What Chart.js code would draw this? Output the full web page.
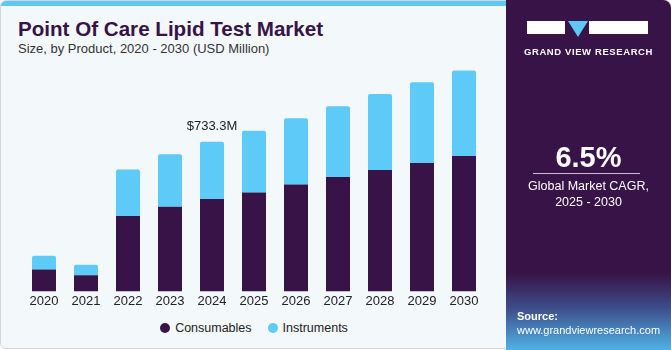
<!DOCTYPE html>
<html>
<head>
<meta charset="utf-8">
<script src="https://cdn.jsdelivr.net/npm/chart.js@4"></script>
<style>
  html, body { margin: 0; padding: 0; background: #ffffff; }
  body { width: 671px; height: 350px; overflow: hidden; font-family: "Liberation Sans", Arial, sans-serif; }
  .card {
    position: absolute; left: 0; top: 0; width: 669px; height: 347px;
    background: #f3f8fb; border: 1px solid #d4d7da; border-radius: 6px; overflow: hidden;
  }
  .strip { position: absolute; left: 0; top: 0; width: 506px; height: 5px; background: #5ec8f2; }
  .title { position: absolute; left: 17px; top: 16px; font-size: 20.6px; font-weight: bold; color: #371347; }
  .sub { position: absolute; left: 17px; top: 40px; font-size: 13px; color: #333; }
  .side {
    position: absolute; left: 506px; top: 0; width: 165px; height: 350px;
    background: linear-gradient(to bottom, #371347 0%, #371347 78%, #3d4d8a 88%, #4fb3e6 100%);
    border-top-right-radius: 8px; color: #fff; text-align: center;
  }
  .logo { position: absolute; left: 21px; top: 21px; width: 121px; height: 13px; }
  .logo .a { position: absolute; left: 0; top: 0; width: 38px; height: 13px; background: #fff; }
  .logo .b { position: absolute; left: 41px; top: 0; width: 0; height: 0;
    border-left: 10px solid transparent; border-right: 10px solid transparent; border-top: 16px solid #5ec8f2; }
  .logo .c { position: absolute; left: 62px; top: 0; width: 59px; height: 13px; background: #fff; }
  .brand { position: absolute; left: 0; width: 165px; top: 46px; font-size: 9.5px; font-weight: bold; letter-spacing: 0.6px; }
  .cagr { position: absolute; left: 0; width: 165px; top: 141px; font-size: 29px; font-weight: bold; }
  .rule { position: absolute; left: 27px; width: 107px; top: 173px; height: 1px; background: #c9bfd1; }
  .cagr-t { position: absolute; left: 0; width: 165px; top: 178px; font-size: 12.5px; line-height: 16px; }
  .src { position: absolute; left: 11px; top: 309px; font-size: 11px; text-align: left; line-height: 14px; }
  .chart-box { position: absolute; left: 0; top: 60px; width: 506px; height: 250px; }
  .legend { position: absolute; left: 0; width: 506px; top: 320px; text-align: center; font-size: 12.5px; color: #222; }
  .legend span { display: inline-block; margin: 0 8px; }
  .legend i { display: inline-block; width: 10px; height: 10px; border-radius: 50%; margin-right: 5px; vertical-align: -1px; }
</style>
</head>
<body>
<div class="card">
  <div class="strip"></div>
  <div class="title">Point Of Care Lipid Test Market</div>
  <div class="sub">Size, by Product, 2020 - 2030 (USD Million)</div>
  <div class="chart-box"><canvas id="chart"></canvas></div>
  <div class="legend" id="legend"></div>
</div>
<div class="side">
  <div class="logo"><div class="a"></div><div class="b"></div><div class="c"></div></div>
  <div class="brand">GRAND VIEW RESEARCH</div>
  <div class="cagr">6.5%</div>
  <div class="rule"></div>
  <div class="cagr-t">Global Market CAGR,<br>2025 - 2030</div>
  <div class="src"><b>Source:</b><br>www.grandviewresearch.com</div>
</div>
<script>
var years = ['2020', '2021', '2022', '2023', '2024', '2025', '2026', '2027', '2028', '2029', '2030'];
var consumables = [107, 79, 370, 415, 452.6, 485, 524, 560, 595, 629, 663];
var instruments = [68, 52, 227, 257, 280.7, 302, 324, 347, 372, 396, 420];
var labelIndex = 4;
var labelText = '$733.3M';

(function () {
    var totalLabel = {
        id: 'totalLabel',
        afterDatasetsDraw: function (chart) {
            var meta = chart.getDatasetMeta(1);
            var bar = meta.data[labelIndex];
            if (!bar) return;
            var ctx = chart.ctx;
            ctx.save();
            ctx.font = '13px "Liberation Sans", Arial, sans-serif';
            ctx.fillStyle = '#222';
            ctx.textAlign = 'center';
            ctx.textBaseline = 'bottom';
            ctx.fillText(labelText, bar.x, bar.y - 9);
            ctx.restore();
        }
    };

    var chart = new Chart(document.getElementById('chart'), {
        type: 'bar',
        data: {
            labels: years,
            datasets: [{
                label: 'Consumables',
                data: consumables,
                backgroundColor: '#371347',
                categoryPercentage: 0.8,
                barPercentage: 0.714
            }, {
                label: 'Instruments',
                data: instruments,
                backgroundColor: '#5ecaf7',
                borderRadius: { topLeft: 2, topRight: 2 },
                borderSkipped: 'bottom',
                categoryPercentage: 0.8,
                barPercentage: 0.714
            }]
        },
        options: {
            responsive: true,
            maintainAspectRatio: false,
            animation: false,
            layout: { padding: { left: 22, right: 22, top: 0, bottom: 0 } },
            plugins: {
                legend: { display: false },
                tooltip: { enabled: false }
            },
            scales: {
                x: {
                    stacked: true,
                    grid: { display: false, drawTicks: false, tickLength: 0 },
                    border: { display: false },
                    ticks: { color: '#222', padding: 2, font: { size: 13, family: '"Liberation Sans", Arial, sans-serif' } }
                },
                y: {
                    stacked: true,
                    display: false,
                    min: 0,
                    max: 1129
                }
            }
        },
        plugins: [totalLabel]
    });

    // simple html legend from the dataset styles
    var legend = document.getElementById('legend');
    chart.data.datasets.forEach(function (ds) {
        var item = document.createElement('span');
        item.innerHTML = '<i style="background:' + ds.backgroundColor + '"></i>' + ds.label;
        legend.appendChild(item);
    });
})();
</script>
</body>
</html>
